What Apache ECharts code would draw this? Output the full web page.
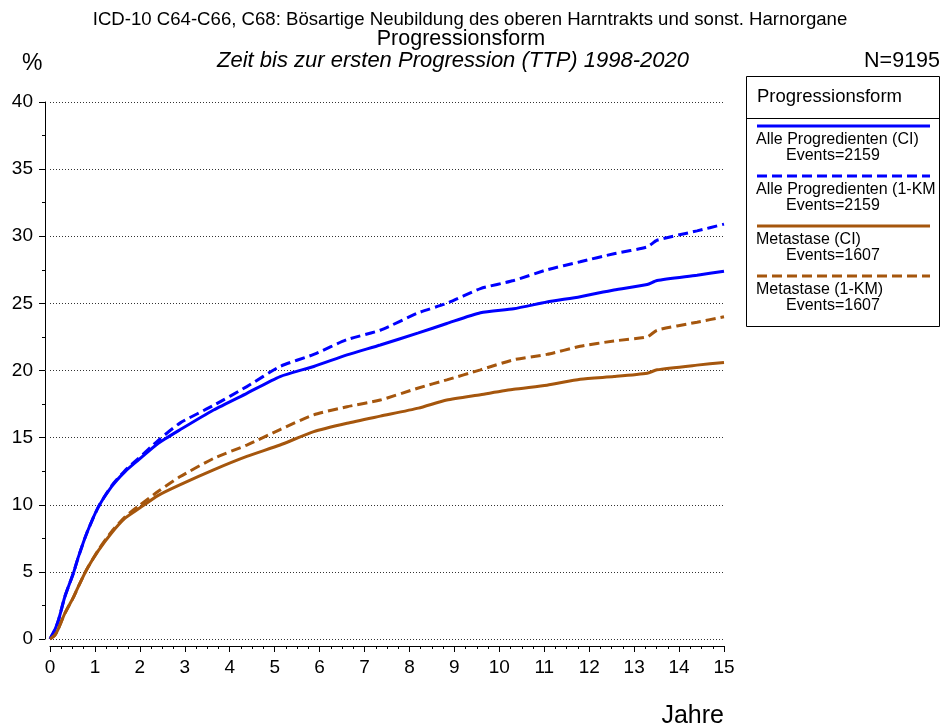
<!DOCTYPE html>
<html>
<head>
<meta charset="utf-8">
<script src="https://cdn.jsdelivr.net/npm/echarts@6/dist/echarts.min.js"></script>
<style>
  html, body { margin: 0; padding: 0; background: #fff; }
  #chart { width: 941px; height: 726px; }
</style>
</head>
<body>
<div id="chart"></div>
<script>
// Jahre (x values shared by all curves)
const years = [0, 0.11, 0.19, 0.33, 0.52, 0.63, 0.82, 1.08, 1.37, 1.67, 1.97, 2.41, 2.9, 3.64, 4.38, 5.12, 5.87, 6.61, 7.35, 8.2, 8.83, 9.58, 10.32, 11.06, 11.8, 12.55, 13.29, 13.51, 14.4, 15.0]
// kumulative Progression in %
const alleCI = [0, 0.7, 1.42, 3.15, 4.9, 6.1, 7.9, 9.86, 11.35, 12.47, 13.34, 14.58, 15.6, 17.06, 18.3, 19.55, 20.3, 21.16, 21.9, 22.8, 23.5, 24.3, 24.6, 25.1, 25.5, 26.0, 26.4, 26.7, 27.1, 27.4]
const alleKM = [0, 0.7, 1.42, 3.15, 4.9, 6.1, 7.9, 9.86, 11.4, 12.55, 13.45, 14.8, 16.1, 17.4, 18.8, 20.3, 21.2, 22.3, 23.0, 24.3, 25.0, 26.1, 26.7, 27.5, 28.1, 28.7, 29.2, 29.7, 30.4, 30.9]
const metaCI = [0, 0.3, 0.8, 1.91, 3.1, 3.9, 5.2, 6.6, 7.9, 9.0, 9.7, 10.7, 11.5, 12.6, 13.6, 14.45, 15.45, 16.07, 16.6, 17.2, 17.8, 18.2, 18.6, 18.9, 19.35, 19.55, 19.8, 20.05, 20.4, 20.6]
const metaKM = [0, 0.3, 0.8, 1.91, 3.1, 3.9, 5.2, 6.65, 8.0, 9.1, 9.9, 11.0, 12.1, 13.45, 14.45, 15.6, 16.7, 17.3, 17.8, 18.7, 19.3, 20.05, 20.8, 21.2, 21.8, 22.2, 22.5, 23.0, 23.6, 24.0]

const legendItems = [
  { name: 'Alle Progredienten (CI)', events: 'Events=2159', color: '#0000ff', dashed: false },
  { name: 'Alle Progredienten (1-KM', events: 'Events=2159', color: '#0000ff', dashed: true },
  { name: 'Metastase (CI)', events: 'Events=1607', color: '#a5560d', dashed: false },
  { name: 'Metastase (1-KM)', events: 'Events=1607', color: '#a5560d', dashed: true }
]

const font = 'Liberation Sans, Arial, sans-serif'

function pairs (ys) {
  return years.map((x, i) => [x, ys[i]])
}

function line (name, ys, color, dashed) {
  return {
    name: name,
    type: 'line',
    data: pairs(ys),
    showSymbol: false,
    smooth: 0.2,
    lineStyle: { color: color, width: 3, type: dashed ? [10, 5] : 'solid' },
    z: dashed ? 3 : 2
  }
}

function title (text, opts, size, italic) {
  return Object.assign({
    text: text,
    padding: 0,
    textStyle: { fontFamily: font, fontSize: size, fontStyle: italic ? 'italic' : 'normal', fontWeight: 'normal', color: '#000' }
  }, opts)
}

const legendGraphics = [
  { type: 'rect', shape: { x: 746.5, y: 76.5, width: 193, height: 250 }, style: { fill: '#fff', stroke: '#000', lineWidth: 1 } },
  { type: 'line', shape: { x1: 746, y1: 118.5, x2: 940, y2: 118.5 }, style: { stroke: '#000', lineWidth: 1 } },
  { type: 'text', left: 757, top: 87, style: { text: 'Progressionsform', font: '18.5px ' + font, fill: '#000' } }
]
legendItems.forEach((it, i) => {
  const y = 126 + i * 50
  legendGraphics.push({
    type: 'line',
    shape: { x1: 757, y1: y, x2: 930, y2: y },
    style: { stroke: it.color, lineWidth: 3, lineDash: it.dashed ? [10, 5] : null }
  })
  legendGraphics.push({ type: 'text', left: 756, top: y + 6, style: { text: it.name, font: '16px ' + font, fill: '#000' } })
  legendGraphics.push({ type: 'text', left: 786, top: y + 22, style: { text: it.events, font: '16px ' + font, fill: '#000' } })
})

const chart = echarts.init(document.getElementById('chart'))
chart.setOption({
  backgroundColor: '#fff',
  animation: false,
  title: [
    title('ICD-10 C64-C66, C68: Bösartige Neubildung des oberen Harntrakts und sonst. Harnorgane', { left: 470, textAlign: 'center', top: 10 }, 18.6),
    title('Progressionsform', { left: 461, textAlign: 'center', top: 28 }, 21.5),
    title('Zeit bis zur ersten Progression (TTP) 1998-2020', { left: 453, textAlign: 'center', top: 50 }, 22, true),
    title('N=9195', { right: 1, top: 50 }, 21.5),
    title('%', { left: 22, top: 52 }, 23),
    title('Jahre', { right: 217, top: 704 }, 25)
  ],
  grid: { left: 50, right: 217, top: 102, bottom: 87 },
  xAxis: {
    type: 'value',
    min: 0,
    max: 15,
    interval: 1,
    offset: 7,
    axisLine: { show: true, onZero: false, lineStyle: { color: '#000', width: 1 } },
    axisTick: { show: true, length: 6, lineStyle: { color: '#000' } },
    minorTick: { show: true, splitNumber: 4, length: 3, lineStyle: { color: '#000' } },
    axisLabel: { fontFamily: font, fontSize: 19, color: '#000', margin: 12 },
    splitLine: { show: false }
  },
  yAxis: {
    type: 'value',
    min: 0,
    max: 40,
    interval: 5,
    offset: 5,
    axisLine: { show: true, onZero: false, lineStyle: { color: '#000', width: 1 } },
    axisTick: { show: true, length: 6, lineStyle: { color: '#000' } },
    minorTick: { show: true, splitNumber: 2, length: 3, lineStyle: { color: '#000' } },
    axisLabel: { fontFamily: font, fontSize: 19, color: '#000', margin: 12 },
    splitLine: { show: true, lineStyle: { color: '#333', width: 1, type: [1, 2] } }
  },
  series: [
    line('Alle Progredienten (CI)', alleCI, '#0000ff', false),
    line('Alle Progredienten (1-KM)', alleKM, '#0000ff', true),
    line('Metastase (CI)', metaCI, '#a5560d', false),
    line('Metastase (1-KM)', metaKM, '#a5560d', true)
  ],
  graphic: legendGraphics
})
</script>
</body>
</html>
